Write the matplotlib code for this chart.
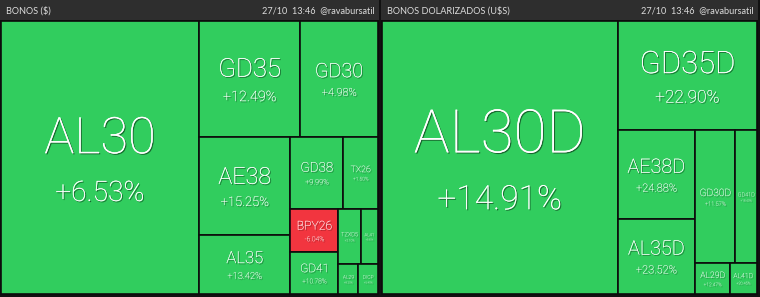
import matplotlib
matplotlib.use('Agg')
import matplotlib.pyplot as plt
import matplotlib.patheffects as pe
from matplotlib.patches import Rectangle

# ------------------------- DATA ----------------------------------------------
left_title = 'BONOS ($)'
right_title = 'BONOS DOLARIZADOS (U$S)'
stamp = '27/10  13:46  @ravabursatil'

left_tickers = ['AL30', 'GD35', 'GD30', 'AE38', 'AL35', 'GD38', 'TX26',
                'BPY26', 'GD41', 'TZXD5', 'AL41', 'AL29', 'DICP']
left_weights = [54054, 11720, 8990, 8994, 5399, 3817, 2509,
                2078, 2002, 1228, 957, 588, 585]
left_changes = [6.53, 12.49, 4.98, 15.25, 13.42, 9.99, 1.50,
                -6.04, 10.78, 2.10, 3.85, 8.20, 5.40]

right_tickers = ['AL30D', 'GD35D', 'AE38D', 'AL35D', 'GD30D', 'GD41D',
                 'AL29D', 'AL41D']
right_weights = [64155, 15220, 6820, 5851, 5285, 2882, 1059, 829]
right_changes = [14.91, 22.90, 24.88, 23.52, 11.57, 18.40, 12.47, 20.45]

# split trees: 'h' = side by side, 'v' = stacked (leaves are indices)
left_tree = ('h', [0, ('v', [('h', [1, 2]),
                             ('h', [('v', [3, 4]),
                                    ('v', [('h', [5, 6]),
                                           ('h', [('v', [7, 8]),
                                                  ('v', [('h', [9, 10]),
                                                         ('h', [11, 12])])])])])])])
right_tree = ('h', [0, ('v', [1, ('h', [('v', [2, 3]),
                                         ('v', [('h', [4, 5]),
                                                ('h', [6, 7])])])])])

# ------------------------- STYLE ---------------------------------------------
green = '#31cd5e'
red = '#f2353f'
header_bg = '#2e2e2e'
edge = '#0c0c0c'
tile_font = 'Roboto'
head_font = 'Lato'


def total(node, w):
    if isinstance(node, int):
        return w[node]
    return sum(total(c, w) for c in node[1])


def layout(node, w, x, y, dx, dy, out):
    if isinstance(node, int):
        out[node] = (x, y, dx, dy)
        return
    kind, kids = node
    s = total(node, w)
    pos = 0.0
    for k in kids:
        f = total(k, w) / s
        if kind == 'h':
            layout(k, w, x + pos * dx, y, f * dx, dy, out)
        else:
            layout(k, w, x, y + pos * dy, dx, f * dy, out)
        pos += f


shadow = [pe.withSimplePatchShadow(offset=(0.8, -0.8), shadow_rgbFace='black', alpha=0.5),
          pe.Normal()]


def draw_panel(ax, tickers, weights, changes, tree, x0, x1, title):
    y0, y1 = 21, 294
    ax.add_patch(Rectangle((x0 - 1, 0), x1 - x0 + 2, 20, facecolor=header_bg,
                           edgecolor='none'))
    ax.text(x0 + 5, 10.5, title, color='#dcdcdc', fontsize=6.6, family=head_font,
            va='center', ha='left')
    ax.text(x1 - 3, 10.5, stamp, color='#dcdcdc', fontsize=6.6, family=head_font,
            va='center', ha='right')
    rects = {}
    layout(tree, weights, x0, y0, x1 - x0, y1 - y0, rects)
    for i, name in enumerate(tickers):
        x, y, dx, dy = rects[i]
        col = green if changes[i] >= 0 else red
        ax.add_patch(Rectangle((x, y), dx, dy, facecolor=col, edgecolor=edge,
                               linewidth=1.2))
        cap = min(0.18 * dx, 0.2 * dy)
        cx, cy = x + dx / 2, y + dy / 2
        t1 = ax.text(cx, cy - 0.12 * cap, name, color='white', fontsize=cap * 1.02,
                     family=tile_font, weight='light', ha='center', va='baseline')
        t2 = ax.text(cx, cy + 1.22 * cap, '%+.2f%%' % changes[i], color='white',
                     fontsize=cap * 0.57, family=tile_font, weight='light',
                     ha='center', va='baseline')
        t1.set_path_effects(shadow)
        t2.set_path_effects(shadow)


fig = plt.figure(figsize=(7.6, 2.97), dpi=100)
fig.patch.set_facecolor('#111111')
ax = fig.add_axes([0, 0, 1, 1])
ax.set_xlim(0, 760)
ax.set_ylim(297, 0)
ax.axis('off')

draw_panel(ax, left_tickers, left_weights, left_changes, left_tree, 1, 378, left_title)
draw_panel(ax, right_tickers, right_weights, right_changes, right_tree, 382, 757, right_title)

plt.savefig('out.png', dpi=100, facecolor=fig.get_facecolor())
